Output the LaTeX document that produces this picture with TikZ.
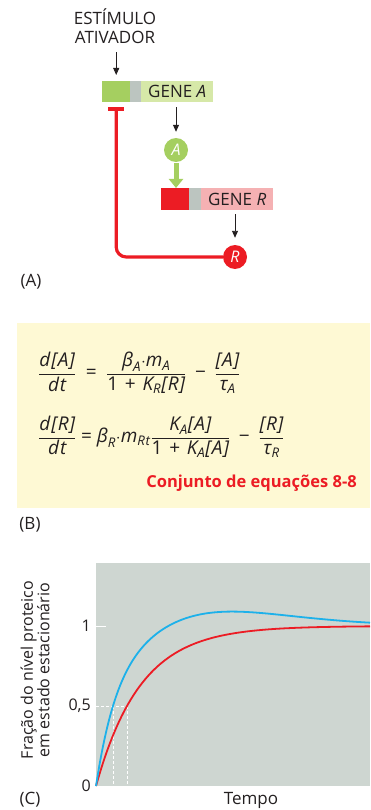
\documentclass[tikz,border=0pt]{standalone}
\usepackage{fontspec}
\usepackage{amsmath}
\setmainfont{Open Sans}
\newfontfamily\eqfont[LetterSpace=5]{Open Sans}
\usetikzlibrary{arrows.meta}
\definecolor{gdark}{HTML}{A5CF60}
\definecolor{glight}{HTML}{D6E8A8}
\definecolor{gbar}{HTML}{BCC5C0}
\definecolor{rdark}{HTML}{EC1C24}
\definecolor{rlight}{HTML}{F5B1B3}
\definecolor{ybg}{HTML}{FEF9D4}
\definecolor{pbg}{HTML}{CED6D1}
\definecolor{cblue}{HTML}{1DB1EA}
\definecolor{txt}{HTML}{231F20}
\newcommand{\eqq}{\mathrel{\;\text{=}\;}}
\newcommand{\eqplus}{\mathbin{\,\text{+}\,}}
\newcommand{\eqminus}{\mathbin{\;\text{−}\;}}
\begin{document}
\begin{tikzpicture}[x=1pt,y=-1pt,
  lbl/.style={font=\fontsize{17}{18.5}\selectfont, text=txt, inner sep=0pt},
  seg/.style={draw=none, inner sep=0pt, anchor=north west, minimum height=21pt},
  arr/.style={line width=0.9pt, draw=txt, -{Triangle[width=6pt,length=7pt]}},
  garr/.style={line width=5pt, draw=gdark, -{Triangle[width=14pt,length=9pt]}},
  inh/.style={line width=3.2pt, draw=rdark, rounded corners=10pt, -{Bar[width=16pt]}},
  circ/.style={circle, minimum size=24pt, inner sep=0pt, text=white, font=\fontsize{16}{18}\selectfont\itshape},
  eq/.style={font=\eqfont\fontsize{19}{21}\selectfont, text=txt, inner sep=0pt, anchor=west}
]
\useasboundingbox (0,0) rectangle (370,810);
% ---------- Panel A
\node[lbl, align=center] (stim) at (115,26) {ESTÍMULO\\ATIVADOR};
\node[seg, fill=gdark, minimum width=28pt] (pa) at (102,81) {};
\node[seg, fill=gbar, minimum width=11pt] (ga) at (130,81) {};
\node[seg, fill=glight, minimum width=72pt, lbl] (la) at (141,81) {GENE \textit{A}};
\node[circ, fill=gdark] (ca) at (176,150) {A};
\node[seg, fill=rdark, minimum width=28pt, minimum height=22pt] (rr) at (161,188) {};
\node[seg, fill=gbar, minimum width=12pt, minimum height=22pt] (gr) at (189,188) {};
\node[seg, fill=rlight, minimum width=72pt, minimum height=22pt, lbl] (lr) at (201,188) {GENE \textit{R}};
\node[circ, fill=rdark] (cr) at (235,257) {R};
\draw[arr, shorten >=6pt] (pa.north |- stim.south) ++(0,9) coordinate (s0) -- (pa.north);
\draw[arr, shorten >=6pt] (ca.north |- la.south) ++(0,5) coordinate (a0) -- (ca.north);
\draw[garr] (ca.south) ++(0,1) coordinate (g0) -- (ca.south |- rr.north);
\draw[arr, shorten >=7pt] (cr.north |- lr.south) ++(0,4) coordinate (r0) -- (cr.north);
\draw[inh, shorten >=5pt] (cr.west) -| (pa.south);
\node[lbl] (pA) at (31,282) {(A)};
% ---------- Panel B
\fill[ybg] (17,323) rectangle (370,508);
\node[eq] (eq1) at (38,373) {$\displaystyle
 \frac{\textit{d[A]}}{\textit{dt}} \eqq
 \frac{\textit{β}_{\textit{A}}{\cdot}\textit{m}_{\textit{A}}}{\text{1} \eqplus \textit{K}_{\textit{R}}\textit{[R]}}
 \eqminus \frac{\textit{[A]}}{\textit{τ}_{\textit{A}}}$};
\node[eq] (eq2) at (38,437) {$\displaystyle
 \frac{\textit{d[R]}}{\textit{dt}} \mathrel{\text{=}}
 \textit{β}_{\textit{R}}{\cdot}\textit{m}_{\textit{Rt}}
 \frac{\textit{K}_{\textit{A}}\textit{[A]}}{\text{1} \eqplus \textit{K}_{\textit{A}}\textit{[A]}}
 \eqminus \frac{\textit{[R]}}{\textit{τ}_{\textit{R}}}$};
\node[inner sep=0pt, anchor=east, text=rdark, font=\fontsize{16.5}{18}\selectfont\bfseries] (conj) at (357,483) {Conjunto de equações 8-8};
\node[lbl] (pB) at (30,525) {(B)};
% ---------- Panel C
\fill[pbg] (96,563) rectangle (370,786);
\draw[white, line width=1pt] (96,626) -- (106,626);
\draw[white, line width=0.8pt, dash pattern=on 3pt off 2pt] (96,706) -- (127,706);
\draw[white, line width=0.8pt, dash pattern=on 3pt off 2pt] (113,706) -- (113,786);
\draw[white, line width=0.8pt, dash pattern=on 3pt off 2pt] (127,706) -- (127,786);
\draw[rdark, line width=1.8pt] plot[domain=0:274, samples=120] ({96+\x}, {786-160*(1-exp(-\x/44.7))});
\draw[cblue, line width=1.8pt] plot[domain=0:274, samples=160] ({96+\x}, {786-160*(1-exp(-\x/24.5))*(1+0.095*((\x/128)*exp(1-\x/128))^4)});
\node[lbl, anchor=east, font=\fontsize{16}{18}\selectfont] (t1) at (91,626) {1};
\node[lbl, anchor=east, font=\fontsize{16}{18}\selectfont] (t05) at (91,706) {0,5};
\node[lbl, anchor=east, font=\fontsize{16}{18}\selectfont] (t0) at (91,786) {0};
\node[lbl, rotate=90, align=center, font=\fontsize{16}{16.5}\selectfont] (ylab) at (35,670) {Fração do nível proteico\\em estado estacionário};
\node[lbl] (xlab) at (251,800) {Tempo};
\node[lbl] (pC) at (30,800) {(C)};
\end{tikzpicture}
\end{document}
